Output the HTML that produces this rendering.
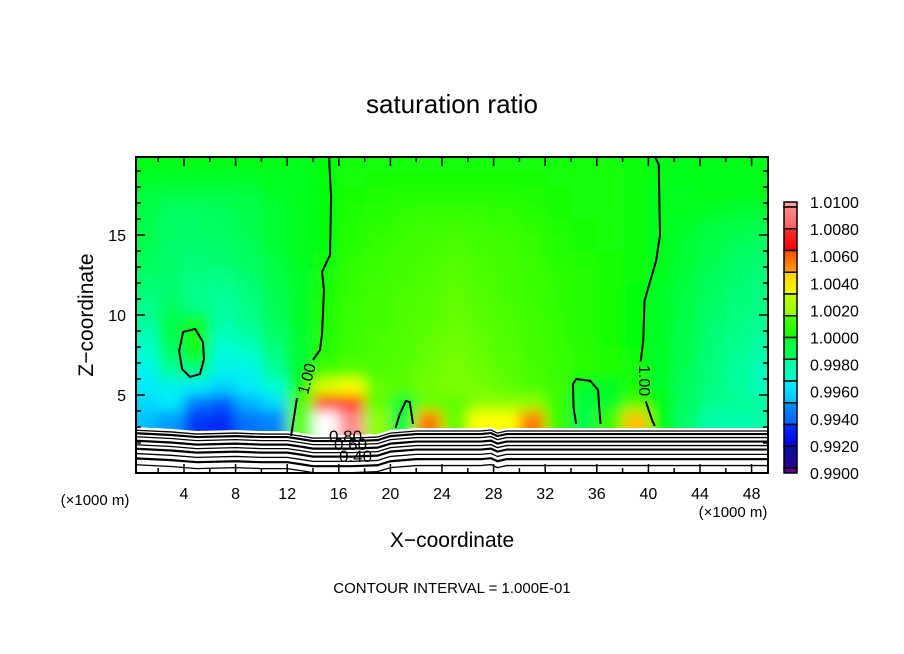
<!DOCTYPE html>
<html><head><meta charset="utf-8">
<style>
html,body{margin:0;padding:0;background:#fff;}
svg{display:block;font-family:"Liberation Sans","DejaVu Sans",sans-serif;}
</style></head>
<body>
<svg id="chart" width="904" height="654" viewBox="0 0 904 654">
<defs>
<clipPath id="plotclip"><rect x="136" y="157" width="632" height="316"/></clipPath>
<filter id="blur" x="-10%" y="-10%" width="120%" height="120%"><feGaussianBlur stdDeviation="6.5"/></filter>
</defs>
<rect width="904" height="654" fill="#fff"/>
<text x="452" y="113" text-anchor="middle" font-size="26">saturation ratio</text>
<g id="heat" clip-path="url(#plotclip)"><g id="cells" filter="url(#blur)"></g></g>
<g id="terrain" clip-path="url(#plotclip)"></g>
<g id="contours" clip-path="url(#plotclip)"></g>
<g id="axes"></g>
<text transform="translate(93,315) rotate(-90)" text-anchor="middle" font-size="21">Z−coordinate</text>
<text x="452" y="547" text-anchor="middle" font-size="21">X−coordinate</text>
<text x="95" y="505" text-anchor="middle" font-size="15">(×1000 m)</text>
<text x="733" y="517" text-anchor="middle" font-size="15">(×1000 m)</text>
<text x="452" y="593" text-anchor="middle" font-size="15">CONTOUR INTERVAL = 1.000E-01</text>
<g id="cbar"></g>
</svg>
<script>
// ---- data ----
const xCenters=[1,3,5,7,9,11,13,15,17,19,21,23,25,27,29,31,33,35,37,39,41,43,45,47,49];
const zCenters=[19.5,18.5,17.5,16.5,15.5,14.5,13.5,12.5,11.5,10.5,9.5,8.5,7.5,6.5,5.5,4.5,3.5];
// deviation of saturation ratio from 1, in units of 0.001
const r195=[0,0,0,0,0,0,-0.1,0.1,0.3,0.3,0.3,0.3,0.3,0.3,0.3,0.3,0.3,0.3,0.3,0.2,0,0,0,0,0];
const r185=[-0.2,-0.2,-0.2,-0.2,-0.2,-0.1,-0.1,0.1,0.3,0.4,0.4,0.4,0.4,0.4,0.4,0.4,0.3,0.3,0.3,0.2,0,0,0,0,0];
const r175=[-0.4,-0.5,-0.5,-0.5,-0.4,-0.2,-0.1,0.1,0.4,0.5,0.6,0.6,0.6,0.6,0.6,0.5,0.4,0.3,0.3,0.2,-0.1,-0.1,0,0,0];
const r165=[-0.5,-0.8,-0.8,-0.7,-0.6,-0.3,-0.1,0.1,0.5,0.6,0.8,0.9,0.9,0.9,0.8,0.6,0.4,0.3,0.3,0.2,-0.1,-0.1,-0.2,-0.3,-0.3];
const r155=[-0.6,-0.9,-0.9,-0.8,-0.6,-0.3,-0.1,0.1,0.6,0.8,1.0,1.1,1.2,1.1,1.0,0.8,0.5,0.4,0.3,0.2,-0.1,-0.2,-0.4,-0.5,-0.6];
const r145=[-0.6,-0.9,-1.0,-0.9,-0.7,-0.3,-0.1,0.1,0.7,0.9,1.1,1.3,1.4,1.3,1.1,0.9,0.6,0.4,0.3,0.2,-0.1,-0.3,-0.5,-0.7,-0.8];
const r135=[-0.7,-1.0,-1.1,-1.0,-0.8,-0.4,-0.1,0.2,0.8,1.0,1.2,1.4,1.6,1.4,1.2,1.0,0.7,0.5,0.4,0.2,-0.1,-0.3,-0.6,-0.9,-1.0];
const r125=[-0.9,-1.0,-1.3,-1.3,-1.0,-0.5,-0.2,0.3,0.9,1.1,1.3,1.5,1.8,1.5,1.3,1.0,0.8,0.6,0.4,0.2,-0.1,-0.4,-0.7,-1.0,-1.2];
const r115=[-1.2,-1.0,-1.5,-1.6,-1.2,-0.6,-0.2,0.4,0.9,1.2,1.4,1.6,1.9,1.6,1.3,1.1,0.8,0.6,0.4,0.1,-0.2,-0.4,-0.8,-1.1,-1.3];
const r105=[-1.5,-0.8,-1.5,-1.8,-1.4,-0.7,-0.2,0.5,1.0,1.3,1.5,1.7,2.0,1.7,1.4,1.1,0.8,0.6,0.4,0.1,-0.2,-0.5,-0.9,-1.2,-1.4];
const r95=[-1.8,-0.5,0.2,-2.0,-1.6,-0.8,-0.2,0.5,1.0,1.3,1.5,1.8,2.0,1.8,1.5,1.2,0.9,0.6,0.4,0.1,-0.2,-0.5,-1.0,-1.3,-1.6];
const r85=[-2.2,-0.6,0.3,-2.3,-2.0,-1.0,-0.3,0.6,1.1,1.4,1.6,1.9,2.1,1.9,1.6,1.3,0.9,0.7,0.4,0.1,-0.2,-0.6,-1.1,-1.5,-1.8];
const r75=[-2.5,-1.0,0.2,-2.6,-2.4,-1.3,-0.3,0.7,1.2,1.4,1.6,2.0,2.2,2.0,1.7,1.3,1.0,0.7,0.5,0.2,-0.2,-0.6,-1.2,-1.6,-2.0];
const r65=[-2.8,-1.8,-1.5,-2.8,-2.8,-1.7,-0.2,1.4,1.8,1.5,1.8,2.1,2.3,2.1,1.8,1.4,1.0,0.7,0.5,0.3,-0.2,-0.7,-1.2,-1.8,-2.2];
const r55=[-3.0,-2.8,-3.0,-3.3,-3.0,-2.5,0.3,3.5,4.0,2.0,1.8,2.2,2.3,2.2,1.9,1.5,1.1,-0.2,-0.2,0.4,-0.2,-0.8,-1.3,-1.8,-2.3];
const r45=[-3.2,-3.0,-4.2,-4.6,-3.6,-3.2,1.5,8.0,7.0,2.0,-0.3,2.0,1.8,2.5,2.5,2.5,1.0,-0.4,-0.2,1.5,0,-0.8,-1.5,-1.6,-1.8];
const r35=[-3.5,-3.8,-5.2,-5.6,-4.2,-4.0,2.0,11,10,2.5,-0.5,6,2,4,4,6,1,-0.5,1,5,0,-1,-2,-2,-2];
const gridRows=[r195,r185,r175,r165,r155,r145,r135,r125,r115,r105,r95,r85,r75,r65,r55,r45,r35];

// ground surface (km)
const groundX=[0,3,5,8,10,12,13,14,17,19,20,22,27,27.8,28.3,29,35,40,50];
const groundZ=[3.0,2.88,2.75,2.81,2.75,2.75,2.63,2.5,2.5,2.56,2.81,2.94,2.94,3.0,2.81,2.94,2.94,2.94,2.94];
const terrainDepths=[0.19,0.38,0.6,0.85,1.1,1.35,1.65,1.95,2.35];

// 1.00 contour lines (x km, z km)
const leftContourA=[[15.24,19.9],[15.4,17.38],[15.32,13.75],[14.7,12.69],[14.85,11.56],[14.7,8.81],[14.54,7.81],[14.0,7.19]];
const leftContourB=[[12.76,4.81],[12.37,2.81],[12.3,2.44]];
const rightContourA=[[40.5,19.9],[40.8,19.4],[40.9,15.0],[40.6,13.4],[39.7,10.9],[39.6,8.4],[39.4,7.1]];
const rightContourB=[[39.8,4.6],[40.3,3.4],[40.5,3.06]];
const loopContour=[[34.4,3.19],[34.2,4.19],[34.16,5.69],[34.4,6.0],[35.5,5.88],[36.1,5.31],[36.2,4.06],[36.3,3.19]];
const humpContour=[[20.4,2.94],[20.7,3.75],[21.2,4.63],[21.5,4.56],[21.75,3.19]];
const ovalContour=[[3.93,8.94],[4.86,9.13],[5.47,8.31],[5.55,7.25],[5.24,6.31],[4.47,6.13],[3.85,6.63],[3.62,7.75]];

const xTicks=[4,8,12,16,20,24,28,32,36,40,44,48];
const yTicks=[5,10,15];
const cbarLabels=["1.0100","1.0080","1.0060","1.0040","1.0020","1.0000","0.9980","0.9960","0.9940","0.9920","0.9900"];
const cbarBandColors=[["#ff8c8c","#ff6060"],["#ff3030","#ff0000"],["#ff5000","#ffa000"],["#ffd000","#f0ff00"],["#c0ff00","#90ff00"],["#50ff00","#10ff00"],["#00ff30","#00ff60"],["#00ffa0","#00ffd0"],["#00f0ff","#00c0ff"],["#0090ff","#0060ff"],["#0030ff","#0000e0"],["#0010a0","#300090"]];

// ---- scales ----
const PX0=132.4, PXS=12.9, PZ0=475, PZS=16;
const sx=x=>PX0+x*PXS;
const sz=z=>PZ0-z*PZS;
const NS="http://www.w3.org/2000/svg";
function mk(tag,attrs,parent){const e=document.createElementNS(NS,tag);for(const k in attrs)e.setAttribute(k,attrs[k]);parent.appendChild(e);return e;}

const stopsV=[-10,-9,-8,-7,-6,-5,-4,-3.5,-3,-2.5,-2,-1,-0.5,0,0.5,1,1.5,2,3,4,5,6,7,8,9,10,11];
const stopsC=[[90,0,140],[40,0,150],[10,0,160],[0,10,200],[0,30,240],[0,60,255],[0,130,255],[0,190,255],[0,235,250],[0,255,215],[0,255,170],[0,255,110],[0,255,70],[0,255,20],[30,255,0],[55,255,0],[75,255,0],[100,255,0],[180,255,0],[255,255,0],[255,190,0],[255,120,0],[255,50,0],[255,0,0],[255,60,60],[255,140,140],[255,255,255]];
function color(v){
  if(v<=stopsV[0])return `rgb(${stopsC[0]})`;
  for(let i=1;i<stopsV.length;i++){if(v<=stopsV[i]){const t=(v-stopsV[i-1])/(stopsV[i]-stopsV[i-1]);const a=stopsC[i-1],b=stopsC[i];return `rgb(${a.map((c,j)=>Math.round(c+(b[j]-c)*t)).join(',')})`;}}
  return "rgb(255,255,255)";
}

// ---- heatmap ----
const cells=document.getElementById('cells');
const dx=2, dz=1;
gridRows.forEach((row,ri)=>{
  row.forEach((v,ci)=>{
    let x0=sx(xCenters[ci]-dx/2), x1=sx(xCenters[ci]+dx/2);
    let y0=sz(zCenters[ri]+dz/2), y1=sz(zCenters[ri]-dz/2);
    if(ci===0)x0-=30; if(ci===row.length-1)x1+=30;
    if(ri===0)y0-=30; if(ri===gridRows.length-1)y1+=20;
    const r=mk('rect',{x:x0,y:y0,width:x1-x0+0.5,height:y1-y0+0.5,fill:color(v)},cells);
    
    
  });
});

// ---- terrain ----
const terr=document.getElementById('terrain');
let gp=groundX.map((x,i)=>`${sx(x)},${sz(groundZ[i])}`).join(' ');
const poly=mk('polygon',{points:`${sx(groundX[0])-10},${sz(groundZ[0])} ${gp} ${sx(50)+10},${sz(groundZ[groundZ.length-1])} ${sx(50)+10},480 ${sx(0)-10},480`,fill:'#fff'},terr);


terrainDepths.forEach((d,k)=>{
  const pts=groundX.map((x,i)=>`${sx(x)},${sz(groundZ[i]-d)}`).join(' ');
  const l=mk('polyline',{points:`${sx(0)-10},${sz(groundZ[0]-d)} ${pts} ${sx(50)+10},${sz(groundZ[groundZ.length-1]-d)}`,fill:'none',stroke:'#000','stroke-width':(k%2?2.2:1.3)},terr);
  
  
});
[["0.80",329,442],["0.60",334,450],["0.40",339,462]].forEach(t=>{
  const e=mk('text',{x:t[1],y:t[2],'font-size':17,fill:'#000'},terr);e.textContent=t[0];
  
  
});

// ---- contours ----
const cg=document.getElementById('contours');
function line(arr,closed,name){
  const pts=arr.map(p=>`${sx(p[0])},${sz(p[1])}`).join(' ');
  const e=mk(closed?'polygon':'polyline',{points:pts,fill:'none',stroke:'#000','stroke-width':2,'stroke-linejoin':'round'},cg);
  
  
}
line(leftContourA,false,'contour-1-left');
line(leftContourB,false,'contour-1-left');
line(rightContourA,false,'contour-1-right');
line(rightContourB,false,'contour-1-right');
line(loopContour,false,'contour-1-loop');
line(humpContour,false,'contour-1-hump');
line(ovalContour,true,'contour-1-oval');
const l1=mk('text',{transform:`translate(${sx(13.6)},${sz(6)}) rotate(-75)`,'font-size':16,'text-anchor':'middle','dominant-baseline':'middle'},cg);l1.textContent="1.00";


const l2=mk('text',{transform:`translate(${sx(39.6)},${sz(5.9)}) rotate(90)`,'font-size':16,'text-anchor':'middle','dominant-baseline':'middle'},cg);l2.textContent="1.00";



// ---- axes ----
const ax=document.getElementById('axes');
const frame=mk('rect',{x:136,y:157,width:632,height:316,fill:'none',stroke:'#000','stroke-width':2},ax);


for(let x=2;x<50;x+=2){
  const major=x%4===0, L=major?9:5;
  mk('line',{x1:sx(x),x2:sx(x),y1:473,y2:473-L,stroke:'#000','stroke-width':1.5},ax);
  mk('line',{x1:sx(x),x2:sx(x),y1:157,y2:157+L,stroke:'#000','stroke-width':1.5},ax);
}
xTicks.forEach(x=>{
  const t=mk('text',{x:sx(x),y:499,'text-anchor':'middle','font-size':16},ax);t.textContent=x;
  
  
});
for(let z=1;z<20;z++){
  const major=z%5===0, L=major?9:5;
  mk('line',{x1:136,x2:136+L,y1:sz(z),y2:sz(z),stroke:'#000','stroke-width':1.5},ax);
  mk('line',{x1:768,x2:768-L,y1:sz(z),y2:sz(z),stroke:'#000','stroke-width':1.5},ax);
}
yTicks.forEach(z=>{
  const t=mk('text',{x:126,y:sz(z)+6,'text-anchor':'end','font-size':16},ax);t.textContent=z;
  
  
});

// ---- colorbar ----
const cb=document.getElementById('cbar');
const cbX=784,cbW=13,cbTop=202,cbBot=473,endH=5;
const bandH=(cbBot-cbTop-2*endH)/cbarBandColors.length;
const tb=mk('rect',{x:cbX,y:cbTop,width:cbW,height:endH,fill:'#ffa0a0',stroke:'#000','stroke-width':1.5},cb);

cbarBandColors.forEach((c,i)=>{
  const y=cbTop+endH+i*bandH;
  const gid='g'+i;
  const defs=document.querySelector('defs');
  const lg=mk('linearGradient',{id:gid,x1:0,y1:0,x2:0,y2:1},defs);
  mk('stop',{offset:0,'stop-color':c[0]},lg);mk('stop',{offset:1,'stop-color':c[1]},lg);
  const r=mk('rect',{x:cbX,y:y,width:cbW,height:bandH,fill:`url(#${gid})`,stroke:'#000','stroke-width':1.5},cb);
  
  
});
const bb=mk('rect',{x:cbX,y:cbBot-endH,width:cbW,height:endH,fill:'#600090',stroke:'#000','stroke-width':1.5},cb);

cbarLabels.forEach((s,i)=>{
  const y=cbTop+i*(cbBot-cbTop)/(cbarLabels.length-1);
  const t=mk('text',{x:810,y:y+6,'font-size':16},cb);t.textContent=s;
  
  
});
</script>
</body></html>
